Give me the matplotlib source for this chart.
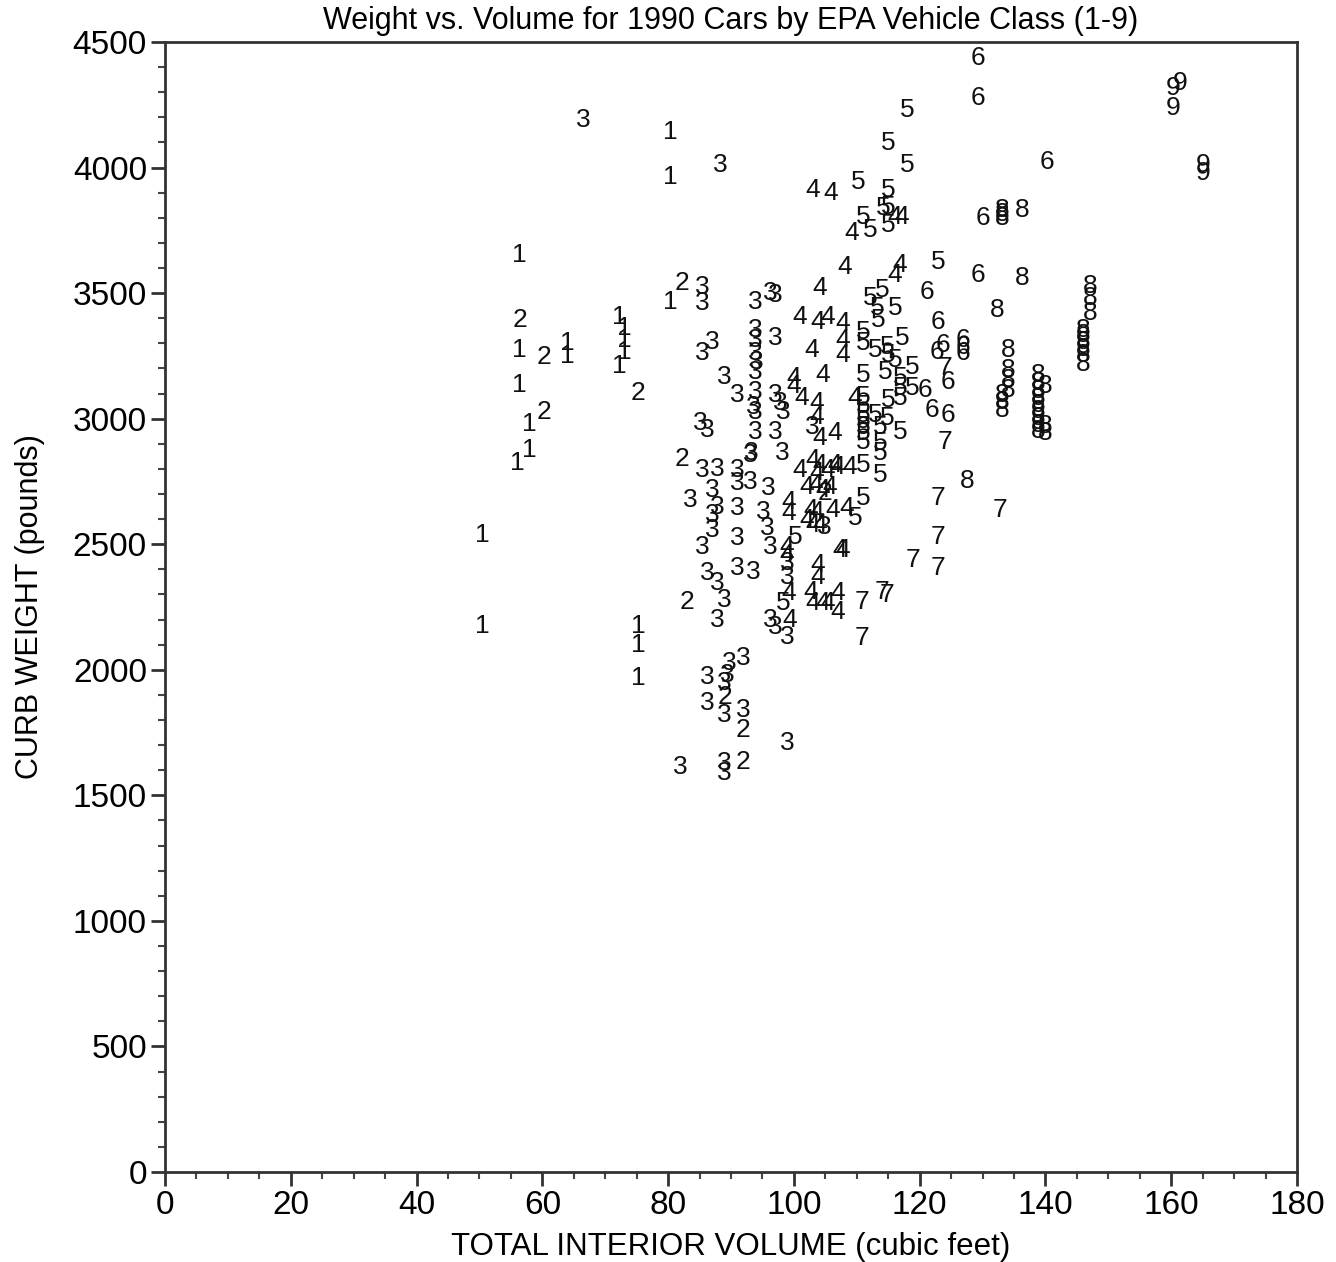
import numpy as np
import matplotlib.pyplot as plt
from matplotlib.ticker import MultipleLocator

plt.rcParams['font.family'] = ['Liberation Sans', 'DejaVu Sans']

# (volume, weight) pairs per EPA class
class1 = [(50.4, 2537), (50.4, 2174), (56.4, 3651), (56.4, 3273), (56.4, 3134),
          (58.0, 2979), (58.0, 2875), (56.1, 2823), (63.9, 3301), (63.9, 3249),
          (72.3, 3405), (73.1, 3361), (73.1, 3313), (73.1, 3265), (72.3, 3210),
          (80.3, 4141), (80.3, 3962), (80.3, 3464), (75.2, 2174), (75.2, 2099),
          (75.2, 1967)]
class2 = [(56.4, 3393), (60.3, 3245), (60.3, 3026), (75.2, 3102), (82.2, 3540),
          (82.2, 2839), (83.0, 2270), (89.0, 1891), (91.9, 1760), (91.9, 1633),
          (104.9, 2704)]
class3 = [(66.5, 4189), (88.3, 4010), (85.4, 3524), (85.4, 3460), (93.8, 3464),
          (96.2, 3500), (97.0, 3492), (93.8, 3353), (93.8, 3313), (97.0, 3321),
          (85.4, 3261), (87.1, 3305), (93.8, 3261), (94.1, 3225), (93.8, 3186),
          (89.0, 3166), (91.0, 3094), (93.8, 3106), (97.0, 3094), (93.5, 3046),
          (93.8, 3026), (85.1, 2982), (86.2, 2955), (93.8, 2947), (97.0, 2947),
          (93.3, 2863), (97.8, 3062), (98.3, 3026), (103.0, 2967),
          (93.0, 2855), (98.1, 2863), (85.4, 2795), (87.9, 2799), (91.0, 2795),
          (91.0, 2744), (93.0, 2748), (95.9, 2724), (83.5, 2676), (87.1, 2716),
          (87.9, 2648), (87.1, 2616), (91.0, 2644), (95.1, 2628), (95.7, 2564),
          (104.9, 2568), (87.1, 2556), (85.4, 2489), (91.0, 2525), (96.2, 2489),
          (93.5, 2389), (91.0, 2405), (98.9, 2425), (98.9, 2369), (86.2, 2385),
          (87.9, 2345), (89.0, 2278), (87.9, 2198), (96.2, 2198), (97.0, 2170),
          (98.9, 2130), (91.9, 2047), (89.8, 2027), (89.4, 1979), (86.2, 1971),
          (89.0, 1947), (86.2, 1868), (89.0, 1820), (91.9, 1840), (98.9, 1708),
          (81.9, 1613), (89.0, 1629), (89.0, 1589)]
class4 = [(108.1, 3604), (116.9, 3612), (116.1, 3572), (104.1, 3520), (101.0, 3405),
          (103.8, 3385), (105.3, 3405), (107.8, 3381), (107.8, 3313), (107.8, 3253),
          (102.9, 3273), (104.5, 3174), (99.9, 3162), (99.9, 3130), (101.3, 3082),
          (103.7, 3062), (103.7, 3006), (104.1, 2923), (106.5, 2943), (101.0, 2795),
          (103.0, 2835), (104.1, 2815), (105.3, 2795), (106.5, 2815), (103.7, 2783),
          (108.9, 2807), (106.9, 2807), (102.1, 2728), (103.4, 2736), (104.6, 2716),
          (105.7, 2728), (99.1, 2668), (99.1, 2624), (102.6, 2636), (103.7, 2628),
          (106.1, 2636), (108.4, 2644), (102.1, 2596), (103.0, 2576), (104.1, 2576),
          (98.9, 2489), (98.9, 2457), (107.3, 2477), (107.8, 2477), (103.8, 2417),
          (103.8, 2369), (102.6, 2310), (107.0, 2306), (103.0, 2266), (104.5, 2266),
          (105.4, 2266), (107.0, 2230), (99.1, 2306), (99.4, 2198), (103.0, 3910),
          (105.9, 3898), (109.2, 3739), (116.1, 3803), (117.2, 3803), (109.7, 3082)]
class5 = [(118.1, 4229), (115.0, 4097), (118.1, 4010), (110.2, 3942), (115.0, 3910),
          (114.2, 3839), (115.0, 3843), (115.0, 3771), (111.0, 3803), (112.1, 3751),
          (122.9, 3624), (114.0, 3512), (112.1, 3480), (113.2, 3440), (116.1, 3440),
          (113.4, 3393), (111.0, 3345), (111.0, 3301), (117.2, 3321), (114.8, 3285),
          (113.0, 3273), (115.0, 3253), (116.1, 3233), (111.0, 3174), (114.5, 3186),
          (116.9, 3162), (118.9, 3206), (116.9, 3122), (118.8, 3122), (115.0, 3074),
          (116.9, 3082), (112.9, 3014), (114.8, 3002), (113.7, 2967), (116.9, 2947),
          (113.7, 2903), (113.7, 2863), (111.0, 3086), (111.0, 3050), (111.0, 3014),
          (111.0, 2990), (111.0, 2967), (111.0, 2943), (111.0, 2907), (111.0, 2815),
          (113.7, 2775), (111.0, 2684), (109.7, 2604), (100.2, 2529), (98.3, 2266)]
class6 = [(129.3, 4436), (129.3, 4277), (140.2, 4022), (130.1, 3799), (129.3, 3572),
          (121.2, 3504), (122.9, 3385), (123.7, 3293), (122.8, 3265), (126.9, 3313),
          (126.9, 3285), (126.9, 3261), (124.5, 3146), (120.8, 3114), (122.0, 3034),
          (124.5, 3014)]
class7 = [(124.0, 3202), (124.0, 2907), (122.9, 2684), (122.9, 2529), (118.9, 2437),
          (122.9, 2405), (110.8, 2270), (114.0, 2310), (114.8, 2298), (110.8, 2126),
          (132.8, 2636)]
class8 = [(133.1, 3831), (133.1, 3815), (133.1, 3799), (136.3, 3831), (136.3, 3560),
          (132.3, 3433), (147.1, 3528), (147.1, 3480), (147.1, 3421), (146.0, 3353),
          (146.0, 3333), (146.0, 3305), (146.0, 3277), (146.0, 3253), (146.0, 3217),
          (134.0, 3273), (134.0, 3194), (134.0, 3154), (134.0, 3114), (133.1, 3094),
          (133.1, 3066), (133.1, 3034), (138.8, 3174), (138.8, 3142), (138.8, 3110),
          (138.8, 3082), (138.8, 3054), (138.8, 3030), (138.8, 3002), (138.8, 2975),
          (138.8, 2951), (139.9, 3130), (139.9, 2971), (139.9, 2943), (127.5, 2752)]
class9 = [(160.3, 4317), (161.4, 4336), (160.3, 4237), (165.1, 4010), (165.1, 3978)]

groups = {'1': class1, '2': class2, '3': class3, '4': class4, '5': class5,
          '6': class6, '7': class7, '8': class8, '9': class9}

fig = plt.figure(figsize=(13.36, 12.62), dpi=100)
ax = fig.add_axes([165 / 1336, 1 - 1172 / 1262, 1132 / 1336, 1130 / 1262])

for label, pts in groups.items():
    for vol, wt in pts:
        ax.text(vol, wt, label, ha='center', va='center', fontsize=19, color='#111111')

ax.set_xlim(0, 180)
ax.set_ylim(0, 4500)
ax.xaxis.set_major_locator(MultipleLocator(20))
ax.xaxis.set_minor_locator(MultipleLocator(5))
ax.yaxis.set_major_locator(MultipleLocator(500))
ax.yaxis.set_minor_locator(MultipleLocator(100))
ax.tick_params(which='major', direction='out', length=10, width=2, color='#333333',
               labelsize=24, pad=3)
ax.tick_params(which='minor', direction='out', length=5, width=1.5, color='#444444')
for sp in ax.spines.values():
    sp.set_linewidth(2)
    sp.set_color('#333333')

ax.set_title('Weight vs. Volume for 1990 Cars by EPA Vehicle Class (1-9)', fontsize=22, pad=9)
ax.set_xlabel('TOTAL INTERIOR VOLUME (cubic feet)', fontsize=22.5, labelpad=8)
ax.set_ylabel('CURB WEIGHT (pounds)', fontsize=22, labelpad=20)

fig.savefig('out.png', dpi=100)
